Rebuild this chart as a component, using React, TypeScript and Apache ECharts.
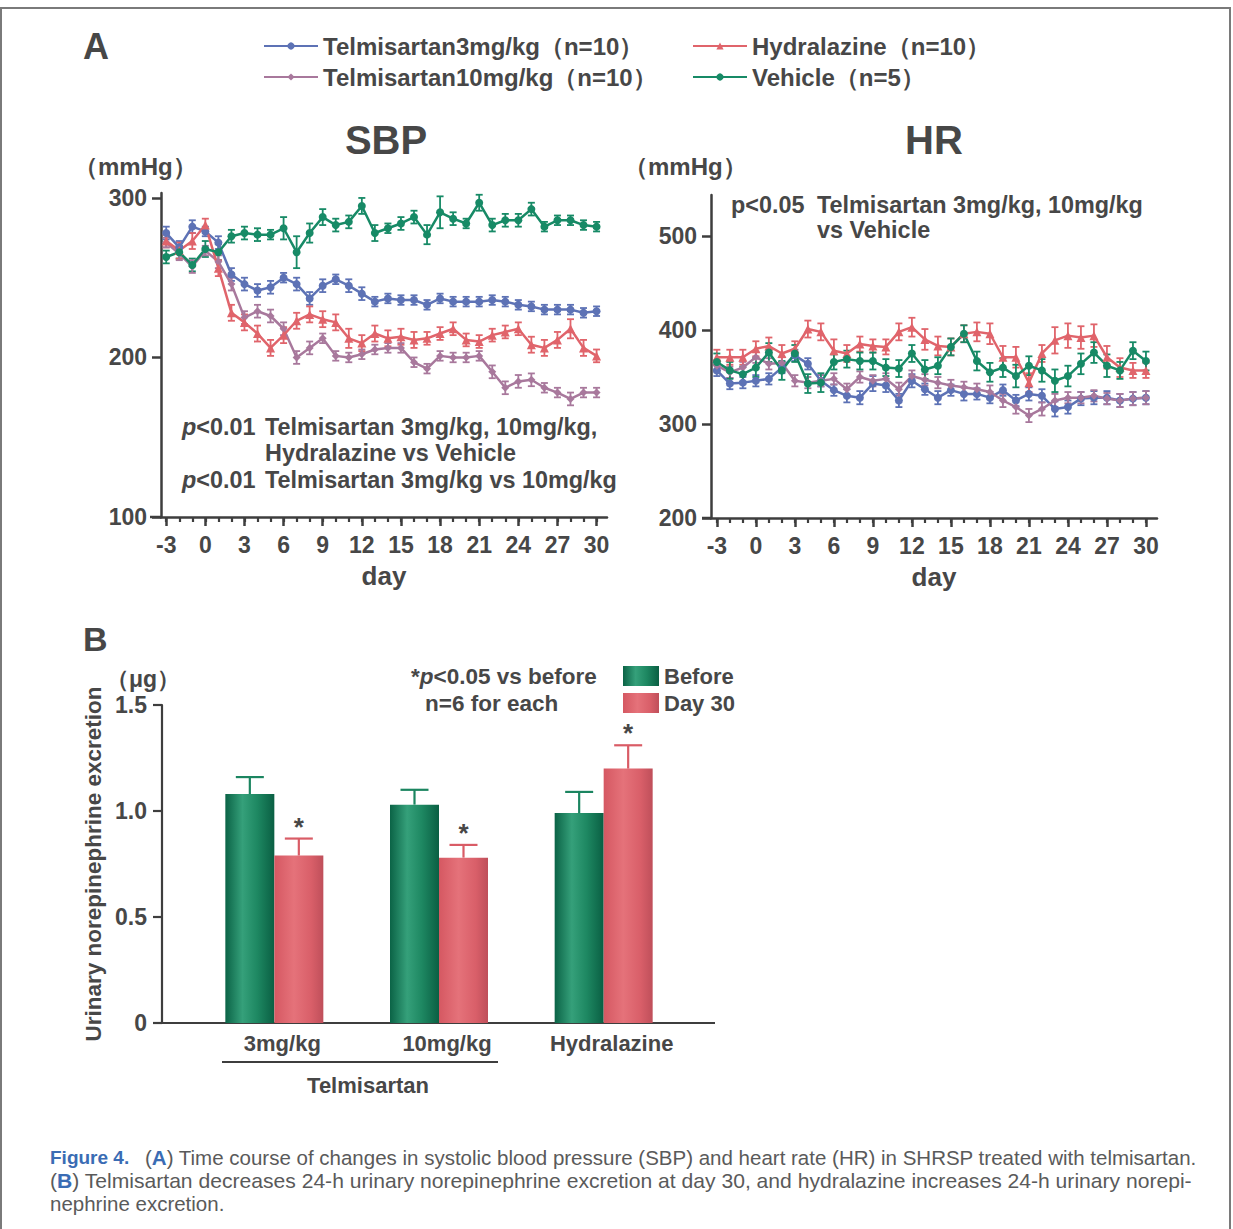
import React, { useEffect, useRef } from 'react';
import * as echarts from 'echarts';

// ---------- data ----------
const DAYS = [-3, -2, -1, 0, 1, 2, 3, 4, 5, 6, 7, 8, 9, 10, 11, 12, 13, 14, 15, 16, 17, 18, 19, 20, 21, 22, 23, 24, 25, 26, 27, 28, 29, 30];
const DAY_TICKS = [-3, 0, 3, 6, 9, 12, 15, 18, 21, 24, 27, 30];
const SBP_TICKS = [100, 200, 300];
const HR_TICKS = [200, 300, 400, 500];

const NAME_T3 = 'Telmisartan3mg/kg';
const NAME_T10 = 'Telmisartan10mg/kg';
const NAME_HYD = 'Hydralazine';
const NAME_VEH = 'Vehicle';
const GROUP_N: Record<string, string> = { [NAME_T3]: '（n=10）', [NAME_T10]: '（n=10）', [NAME_HYD]: '（n=10）', [NAME_VEH]: '（n=5）' };

const SBP_T3 = [278, 269, 282, 279, 272, 252, 246, 242, 244, 250, 246, 237, 245, 249, 245, 240, 235, 237, 236, 236, 233, 237, 235, 235, 235, 236, 235, 233, 232, 230, 230, 230, 228, 229];
const SBP_T3_ERR = [4, 4, 4, 3, 4, 4, 4, 4, 4, 3, 4, 4, 4, 3, 4, 4, 3, 3, 3, 3, 3, 3, 3, 3, 3, 3, 3, 3, 3, 3, 3, 3, 3, 3];
const SBP_T10 = [272, 265, 257, 267, 260, 246, 225, 229, 226, 218, 200, 206, 212, 201, 200, 202, 205, 206, 206, 197, 193, 201, 200, 200, 201, 191, 181, 185, 186, 181, 178, 174, 178, 178];
const SBP_T10_ERR = [3, 4, 4, 3, 4, 4, 4, 4, 4, 4, 4, 4, 3, 3, 3, 3, 3, 3, 3, 3, 3, 3, 3, 3, 3, 4, 4, 4, 4, 3, 3, 4, 3, 3];
const SBP_HYD = [273, 267, 273, 283, 256, 228, 222, 215, 206, 214, 223, 227, 224, 222, 212, 209, 215, 212, 213, 211, 212, 215, 218, 211, 210, 214, 216, 218, 208, 206, 211, 218, 206, 201];
const SBP_HYD_ERR = [4, 5, 5, 4, 5, 5, 5, 5, 5, 5, 5, 5, 5, 5, 6, 5, 5, 5, 5, 5, 4, 4, 4, 4, 4, 4, 4, 4, 5, 5, 5, 6, 5, 4];
const SBP_VEH = [263, 266, 258, 268, 266, 276, 278, 277, 277, 281, 266, 278, 288, 283, 285, 295, 278, 281, 284, 288, 277, 291, 287, 284, 297, 283, 286, 286, 293, 282, 286, 286, 283, 282];
const SBP_VEH_ERR = [4, 4, 4, 5, 5, 4, 4, 4, 3, 7, 10, 6, 5, 4, 4, 5, 5, 3, 4, 4, 6, 10, 4, 3, 5, 4, 4, 4, 4, 3, 3, 3, 3, 3];

const HR_T3 = [357, 343, 344, 346, 348, 360, 373, 364, 346, 336, 330, 328, 343, 341, 325, 346, 337, 328, 336, 332, 332, 328, 336, 325, 332, 330, 316, 318, 327, 328, 328, 325, 327, 328];
const HR_T3_ERR = [6, 6, 6, 6, 6, 6, 6, 6, 6, 6, 7, 7, 8, 7, 7, 7, 6, 7, 6, 7, 6, 6, 6, 6, 7, 7, 8, 7, 7, 7, 7, 7, 7, 7];
const HR_T10 = [362, 355, 360, 371, 364, 365, 346, 344, 346, 348, 337, 350, 346, 348, 337, 351, 347, 344, 341, 339, 337, 334, 325, 318, 309, 316, 325, 328, 328, 330, 327, 325, 327, 328];
const HR_T10_ERR = [6, 6, 6, 6, 6, 6, 6, 6, 6, 6, 6, 6, 6, 6, 7, 6, 6, 6, 6, 6, 6, 7, 7, 7, 7, 7, 7, 6, 6, 6, 6, 7, 7, 7];
const HR_HYD = [371, 371, 371, 380, 383, 375, 380, 401, 398, 378, 375, 385, 383, 382, 398, 403, 390, 383, 382, 396, 398, 396, 371, 371, 344, 375, 389, 394, 392, 394, 371, 360, 357, 357];
const HR_HYD_ERR = [8, 8, 8, 8, 9, 9, 8, 9, 9, 12, 9, 8, 7, 8, 9, 10, 11, 10, 9, 9, 10, 11, 12, 11, 10, 9, 14, 13, 12, 12, 12, 10, 8, 8];
const HR_VEH = [366, 357, 353, 360, 376, 357, 375, 343, 344, 366, 369, 367, 367, 360, 359, 375, 358, 362, 382, 396, 367, 355, 360, 351, 362, 357, 346, 351, 364, 376, 362, 357, 378, 367];
const HR_VEH_ERR = [9, 9, 8, 10, 10, 10, 9, 10, 10, 8, 9, 9, 9, 9, 9, 9, 10, 9, 9, 9, 10, 10, 10, 12, 10, 12, 12, 11, 11, 11, 12, 9, 9, 10];

const NE_CATS = ['3mg/kg', '10mg/kg', 'Hydralazine'];
const NE_BEFORE = [1.08, 1.03, 0.99];
const NE_BEFORE_ERR = [0.08, 0.07, 0.10];
const NE_DAY30 = [0.79, 0.78, 1.20];
const NE_DAY30_ERR = [0.08, 0.06, 0.11];
const NE_DAY30_SIG = [1, 1, 1];

// ---------- style ----------
const FONT = "'Liberation Sans', Arial, Helvetica, sans-serif";
const TXT = '#474747';
const AXIS = '#3e3e3e';
const COL_T3 = '#5d72b5';
const COL_T10 = '#a8789c';
const COL_HYD = '#e0646b';
const COL_VEH = '#178a66';
const COL_BEFORE = '#1b8560';
const COL_DAY30 = '#d95c66';
const BAR_W = 49;
const CAP_FONT = 20.5;

const greenGrad = new echarts.graphic.LinearGradient(0, 0, 1, 0, [
  { offset: 0, color: '#0b6346' },
  { offset: 0.35, color: '#35a07a' },
  { offset: 0.65, color: '#1e8862' },
  { offset: 1, color: '#0a5f43' },
]);
const redGrad = new echarts.graphic.LinearGradient(0, 0, 1, 0, [
  { offset: 0, color: '#d55862' },
  { offset: 0.4, color: '#e5727a' },
  { offset: 0.75, color: '#d95f69' },
  { offset: 1, color: '#bf4f5a' },
]);

function lineSeries(name: string, xi: number, yi: number, vals: number[], color: string, symbol: string) {
  return {
    type: 'line', name, xAxisIndex: xi, yAxisIndex: yi,
    data: DAYS.map((d, i) => [d, vals[i]]),
    symbol, symbolSize: symbol === 'triangle' ? 9 : 8, showAllSymbol: true,
    lineStyle: { color, width: 2.5 }, itemStyle: { color }, z: 4, clip: false,
  };
}

function errSeries(name: string, xi: number, yi: number, vals: number[], errs: number[], color: string) {
  return {
    type: 'custom', name, xAxisIndex: xi, yAxisIndex: yi, silent: true, clip: false, z: 3,
    data: DAYS.map((d, i) => [d, vals[i], errs[i]]),
    encode: { x: 0, y: 1 },
    renderItem: (_p: any, api: any) => {
      const x = api.value(0), y = api.value(1), e = api.value(2);
      const a = api.coord([x, y + e]);
      const b = api.coord([x, y - e]);
      const w = 3.5;
      const st = { stroke: color, lineWidth: 1.8 };
      return {
        type: 'group', children: [
          { type: 'line', shape: { x1: a[0], y1: a[1], x2: b[0], y2: b[1] }, style: st },
          { type: 'line', shape: { x1: a[0] - w, y1: a[1], x2: a[0] + w, y2: a[1] }, style: st },
          { type: 'line', shape: { x1: b[0] - w, y1: b[1], x2: b[0] + w, y2: b[1] }, style: st },
        ],
      };
    },
  };
}

function barErrSeries(name: string, vals: number[], errs: number[], sig: number[], side: number, color: string) {
  return {
    type: 'custom', name, xAxisIndex: 4, yAxisIndex: 2, silent: true, clip: false, z: 5,
    data: vals.map((v, i) => [i, v, errs[i], sig[i]]),
    encode: { x: 0, y: 1 },
    renderItem: (_p: any, api: any) => {
      const i = api.value(0), v = api.value(1), e = api.value(2), s = api.value(3);
      const base = api.coord([i, v]);
      const top = api.coord([i, v + e]);
      const x = base[0] + side * BAR_W / 2;
      const st = { stroke: color, lineWidth: 2.2 };
      const children: any[] = [
        { type: 'line', shape: { x1: x, y1: base[1], x2: x, y2: top[1] }, style: st },
        { type: 'line', shape: { x1: x - 14, y1: top[1], x2: x + 14, y2: top[1] }, style: st },
      ];
      if (s) {
        children.push({
          type: 'text', x, y: top[1] + 1,
          style: { text: '*', fill: TXT, font: `bold 26px ${FONT}`, align: 'center', verticalAlign: 'bottom', textAlign: 'center', textVerticalAlign: 'bottom' },
        });
      }
      return { type: 'group', children };
    },
  };
}

function txt(text: string, x: number, y: number, size: number, opts: any = {}) {
  return {
    type: 'text', x, y, z: 10, silent: true,
    style: {
      text, fill: opts.fill || TXT,
      font: `${opts.italic ? 'italic ' : ''}${opts.weight || 'bold'} ${size}px ${opts.family || FONT}`,
      align: opts.align || 'left', verticalAlign: 'middle',
      textAlign: opts.align || 'left', textVerticalAlign: 'middle',
      rich: opts.rich,
    },
  };
}

const italicP = (size: number) => ({ i: { fontStyle: 'italic', fontWeight: 'bold', fontSize: size, fontFamily: FONT, fill: TXT, color: TXT } });
const blueB = (size: number) => ({ b: { fill: '#3a6cb4', color: '#3a6cb4', fontSize: size, fontWeight: 'bold', fontFamily: FONT } });

const valueXAxis = (gridIndex: number, min: number, max: number) => ([
  {
    type: 'value', gridIndex, min, max, position: 'bottom',
    axisLine: { show: true, onZero: false, lineStyle: { color: AXIS, width: 2.5 } },
    axisTick: { show: true, customValues: DAY_TICKS, length: 9, lineStyle: { color: AXIS, width: 2.5 } },
    axisLabel: { customValues: DAY_TICKS, color: TXT, fontSize: 23, fontWeight: 'bold', fontFamily: FONT, margin: 16 },
    splitLine: { show: false },
    name: 'day', nameLocation: 'middle', nameGap: 46,
    nameTextStyle: { color: TXT, fontSize: 26, fontWeight: 'bold', fontFamily: FONT },
  },
  {
    type: 'value', gridIndex, min, max, position: 'bottom',
    axisLine: { show: false, onZero: false },
    axisTick: { show: true, customValues: DAYS, length: 5, lineStyle: { color: AXIS, width: 2.2 } },
    axisLabel: { show: false },
    splitLine: { show: false },
  },
]);

const valueYAxis = (gridIndex: number, min: number, max: number, ticks: number[]) => ({
  type: 'value', gridIndex, min, max, position: 'left',
  axisLine: { show: true, onZero: false, lineStyle: { color: AXIS, width: 2.5 } },
  axisTick: { show: true, customValues: ticks, length: 9, lineStyle: { color: AXIS, width: 2.5 } },
  axisLabel: { customValues: ticks, color: TXT, fontSize: 23, fontWeight: 'bold', fontFamily: FONT, margin: 14 },
  splitLine: { show: false },
});

const option: any = {
  animation: false,
  backgroundColor: '#ffffff',
  textStyle: { fontFamily: FONT },
  grid: [
    { left: 161, top: 193, width: 446, height: 324 },
    { left: 711, top: 195, width: 446, height: 323 },
    { left: 192, top: 705, width: 494, height: 318 },
  ],
  xAxis: [
    ...valueXAxis(0, -3.4, 30.8),
    ...valueXAxis(1, -3.45, 30.85),
    {
      type: 'category', gridIndex: 2, data: NE_CATS,
      axisLine: { show: false, onZero: false }, axisTick: { show: false },
      axisLabel: { color: TXT, fontSize: 22, fontWeight: 'bold', fontFamily: FONT, margin: 9, padding: [0, 0, 0, 16] },
    },
  ],
  yAxis: [
    valueYAxis(0, 100, 303.1, SBP_TICKS),
    valueYAxis(1, 200, 543.6, HR_TICKS),
    {
      type: 'value', gridIndex: 2, min: 0, max: 1.5, interval: 0.5, offset: 30, position: 'left',
      axisLine: { show: true, onZero: false, lineStyle: { color: AXIS, width: 2.2 } },
      axisTick: { show: true, length: 9, lineStyle: { color: AXIS, width: 2.2 } },
      axisLabel: { color: TXT, fontSize: 23, fontWeight: 'bold', fontFamily: FONT, margin: 15, formatter: (v: number) => (v === 0 ? '0' : v.toFixed(1)) },
      splitLine: { show: false },
      name: 'Urinary norepinephrine excretion', nameLocation: 'middle', nameRotate: 90, nameGap: 57,
      nameTextStyle: { color: TXT, fontSize: 22.5, fontWeight: 'bold', fontFamily: FONT },
    },
  ],
  legend: [
    {
      data: [NAME_T3, NAME_T10], orient: 'vertical', left: 263, top: 34, itemGap: 7, padding: 0,
      itemWidth: 54, itemHeight: 9, formatter: (n: string) => n + GROUP_N[n],
      textStyle: { color: TXT, fontSize: 24, fontWeight: 'bold', fontFamily: FONT },
    },
    {
      data: [NAME_HYD, NAME_VEH], orient: 'vertical', left: 692, top: 34, itemGap: 7, padding: 0,
      itemWidth: 54, itemHeight: 9, formatter: (n: string) => n + GROUP_N[n],
      textStyle: { color: TXT, fontSize: 24, fontWeight: 'bold', fontFamily: FONT },
    },
    {
      data: ['Before', 'Day 30'], orient: 'vertical', left: 623, top: 665, itemGap: 5, padding: 0,
      itemWidth: 36, itemHeight: 20, icon: 'rect',
      textStyle: { color: TXT, fontSize: 22, fontWeight: 'bold', fontFamily: FONT },
    },
  ],
  series: [
    errSeries('e1', 0, 0, SBP_VEH, SBP_VEH_ERR, COL_VEH),
    errSeries('e2', 0, 0, SBP_T3, SBP_T3_ERR, COL_T3),
    errSeries('e3', 0, 0, SBP_HYD, SBP_HYD_ERR, COL_HYD),
    errSeries('e4', 0, 0, SBP_T10, SBP_T10_ERR, COL_T10),
    lineSeries(NAME_T3, 0, 0, SBP_T3, COL_T3, 'circle'),
    lineSeries(NAME_T10, 0, 0, SBP_T10, COL_T10, 'diamond'),
    lineSeries(NAME_HYD, 0, 0, SBP_HYD, COL_HYD, 'triangle'),
    lineSeries(NAME_VEH, 0, 0, SBP_VEH, COL_VEH, 'circle'),
    errSeries('e5', 2, 1, HR_T3, HR_T3_ERR, COL_T3),
    errSeries('e6', 2, 1, HR_T10, HR_T10_ERR, COL_T10),
    errSeries('e7', 2, 1, HR_HYD, HR_HYD_ERR, COL_HYD),
    errSeries('e8', 2, 1, HR_VEH, HR_VEH_ERR, COL_VEH),
    lineSeries(NAME_T3, 2, 1, HR_T3, COL_T3, 'circle'),
    lineSeries(NAME_T10, 2, 1, HR_T10, COL_T10, 'diamond'),
    lineSeries(NAME_HYD, 2, 1, HR_HYD, COL_HYD, 'triangle'),
    lineSeries(NAME_VEH, 2, 1, HR_VEH, COL_VEH, 'circle'),
    {
      type: 'bar', name: 'Before', xAxisIndex: 4, yAxisIndex: 2, data: NE_BEFORE,
      barWidth: BAR_W, barGap: '0%', itemStyle: { color: greenGrad },
    },
    {
      type: 'bar', name: 'Day 30', xAxisIndex: 4, yAxisIndex: 2, data: NE_DAY30,
      barWidth: BAR_W, barGap: '0%', itemStyle: { color: redGrad },
    },
    barErrSeries('eb1', NE_BEFORE, NE_BEFORE_ERR, [0, 0, 0], -1, COL_BEFORE),
    barErrSeries('eb2', NE_DAY30, NE_DAY30_ERR, NE_DAY30_SIG, 1, COL_DAY30),
  ],
  graphic: [
    { type: 'rect', shape: { x: 1, y: 8, width: 1229, height: 1240 }, style: { fill: 'none', stroke: '#7a7a7a', lineWidth: 2 }, silent: true },
    { type: 'line', shape: { x1: 150, y1: 517, x2: 162, y2: 517 }, style: { stroke: AXIS, lineWidth: 2.5 }, silent: true },
    { type: 'line', shape: { x1: 702, y1: 518, x2: 712, y2: 518 }, style: { stroke: AXIS, lineWidth: 2.5 }, silent: true },
    txt('A', 83, 46, 36),
    txt('B', 83, 639, 34),
    txt('SBP', 386, 140, 40, { align: 'center' }),
    txt('HR', 934, 140, 40, { align: 'center' }),
    txt('（mmHg）', 74, 166, 24),
    txt('（mmHg）', 624, 166, 24),
    txt('{i|p}<0.01', 182, 427, 23.4, { rich: italicP(23.4) }),
    txt('Telmisartan 3mg/kg, 10mg/kg,', 265, 427, 23.4),
    txt('Hydralazine vs Vehicle', 265, 453, 23.4),
    txt('{i|p}<0.01', 182, 480, 23.4, { rich: italicP(23.4) }),
    txt('Telmisartan 3mg/kg vs 10mg/kg', 265, 480, 23.4),
    txt('p<0.05', 731, 205, 23.4),
    txt('Telmisartan 3mg/kg, 10mg/kg', 817, 205, 23.4),
    txt('vs Vehicle', 817, 230, 23.4),
    txt('（μg）', 106, 679, 23),
    txt('*{i|p}<0.05 vs before', 411, 676, 22.5, { rich: italicP(22.5) }),
    txt('n=6 for each', 425, 703, 22.5),
    { type: 'line', shape: { x1: 153, y1: 1023, x2: 715, y2: 1023 }, style: { stroke: AXIS, lineWidth: 2.2 }, silent: true },
    { type: 'line', shape: { x1: 222, y1: 1062, x2: 498, y2: 1062 }, style: { stroke: AXIS, lineWidth: 2 }, silent: true },
    txt('Telmisartan', 368, 1085, 22, { align: 'center' }),
    txt('Figure 4.', 50, 1157, 19, { fill: '#3a6cb4' }),
    txt('({b|A}) Time course of changes in systolic blood pressure (SBP) and heart rate (HR) in SHRSP treated with telmisartan.', 145, 1157, CAP_FONT, { weight: 'normal', fill: '#5a5a5a', rich: blueB(CAP_FONT) }),
    txt('({b|B}) Telmisartan decreases 24-h urinary norepinephrine excretion at day 30, and hydralazine increases 24-h urinary norepi-', 50, 1180, 21.1, { weight: 'normal', fill: '#5a5a5a', rich: blueB(21.1) }),
    txt('nephrine excretion.', 50, 1203, CAP_FONT, { weight: 'normal', fill: '#5a5a5a' }),
  ],
};

export default function App() {
  const ref = useRef<HTMLDivElement>(null);
  useEffect(() => {
    const chart = echarts.init(ref.current as HTMLDivElement, null, { renderer: 'svg' });
    chart.setOption(option);
    return () => chart.dispose();
  }, []);
  return <div ref={ref} style={{ position: 'absolute', left: 0, top: 0, width: 1233, height: 1229, background: '#fff' }} />;
}
